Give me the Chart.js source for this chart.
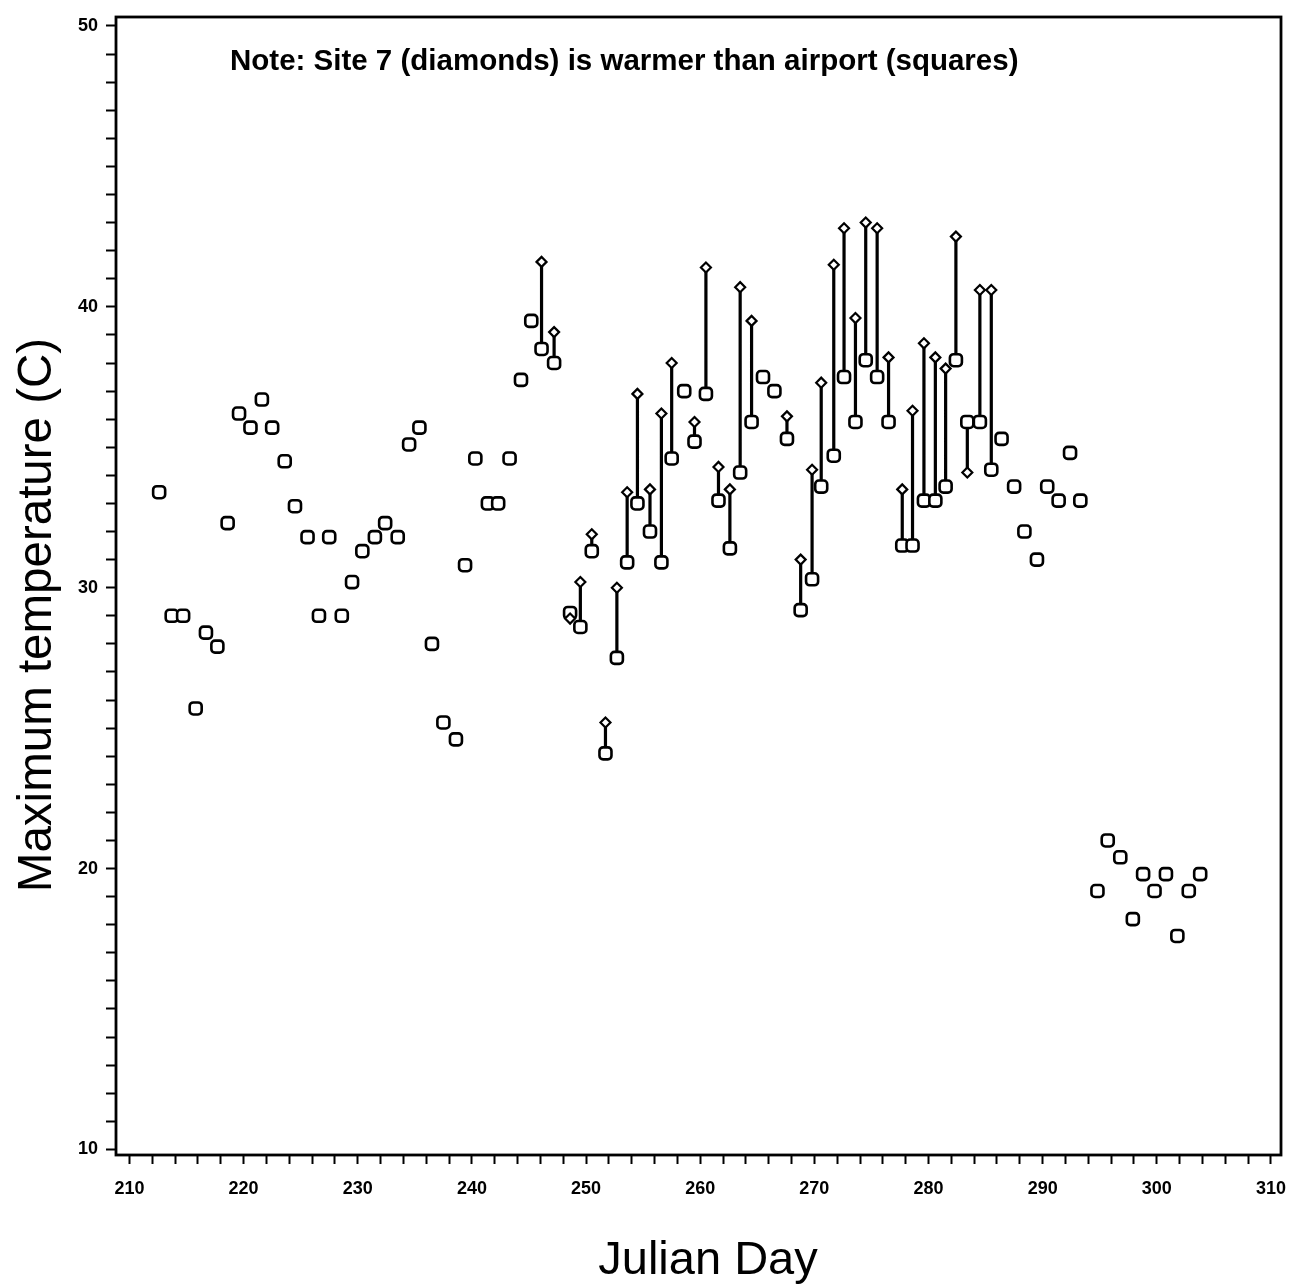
<!DOCTYPE html>
<html>
<head>
<meta charset="utf-8">
<script src="https://cdn.jsdelivr.net/npm/chart.js@4/dist/chart.umd.min.js"></script>
<style>
  html, body { margin: 0; padding: 0; background: #fff; }
  canvas { display: block; }
</style>
</head>
<body>
<canvas id="tempChart" width="1292" height="1288"></canvas>
<script>
// Julian day of each observation
const days = [212.6, 213.7, 214.7, 215.8, 216.7, 217.7, 218.6, 219.6, 220.6, 221.6,
  222.5, 223.6, 224.5, 225.6, 226.6, 227.5, 228.6, 229.5, 230.4, 231.5,
  232.4, 233.5, 234.5, 235.4, 236.5, 237.5, 238.6, 239.4, 240.3, 241.4,
  242.3, 243.3, 244.3, 245.2, 246.1, 247.2, 248.6, 249.5, 250.5, 251.7,
  252.7, 253.6, 254.5, 255.6, 256.6, 257.5, 258.6, 259.5, 260.5, 261.6,
  262.6, 263.5, 264.5, 265.5, 266.5, 267.6, 268.8, 269.8, 270.6, 271.7,
  272.6, 273.6, 274.5, 275.5, 276.5, 277.7, 278.6, 279.6, 280.6, 281.5,
  282.4, 283.4, 284.5, 285.5, 286.4, 287.5, 288.4, 289.5, 290.4, 291.4,
  292.4, 293.3, 294.8, 295.7, 296.8, 297.9, 298.8, 299.8, 300.8, 301.8,
  302.8, 303.8];

// Airport maximum temperature (squares)
const airportTemps = [33.4, 29.0, 29.0, 25.7, 28.4, 27.9, 32.3, 36.2, 35.7, 36.7,
  35.7, 34.5, 32.9, 31.8, 29.0, 31.8, 29.0, 30.2, 31.3, 31.8,
  32.3, 31.8, 35.1, 35.7, 28.0, 25.2, 24.6, 30.8, 34.6, 33.0,
  33.0, 34.6, 37.4, 39.5, 38.5, 38.0, 29.1, 28.6, 31.3, 24.1,
  27.5, 30.9, 33.0, 32.0, 30.9, 34.6, 37.0, 35.2, 36.9, 33.1,
  31.4, 34.1, 35.9, 37.5, 37.0, 35.3, 29.2, 30.3, 33.6, 34.7,
  37.5, 35.9, 38.1, 37.5, 35.9, 31.5, 31.5, 33.1, 33.1, 33.6,
  38.1, 35.9, 35.9, 34.2, 35.3, 33.6, 32.0, 31.0, 33.6, 33.1,
  34.8, 33.1, 19.2, 21.0, 20.4, 18.2, 19.8, 19.2, 19.8, 17.6,
  19.2, 19.8];

// Site 7 maximum temperature (diamonds), null = no reading
const site7Temps = [null, null, null, null, null, null, null, null, null, null,
  null, null, null, null, null, null, null, null, null, null,
  null, null, null, null, null, null, null, null, null, null,
  null, null, null, null, 41.6, 39.1, 28.9, 30.2, 31.9, 25.2,
  30.0, 33.4, 36.9, 33.5, 36.2, 38.0, null, 35.9, 41.4, 34.3,
  33.5, 40.7, 39.5, null, null, 36.1, 31.0, 34.2, 37.3, 41.5,
  42.8, 39.6, 43.0, 42.8, 38.2, 33.5, 36.3, 38.7, 38.2, 37.8,
  42.5, 34.1, 40.6, 40.6, null, null, null, null, null, null,
  null, null, null, null, null, null, null, null, null, null,
  null, null];

// labelled ticks
const xTickLabels = [210, 220, 230, 240, 250, 260, 270, 280, 290, 300, 310];
const yTickLabels = [10, 20, 30, 40, 50];

const noteText = 'Note: Site 7 (diamonds) is warmer than airport (squares)';
const xTitle = 'Julian Day';
const yTitle = 'Maximum temperature (C)';

const airportPoints = days.map((d, i) => ({ x: d, y: airportTemps[i] }));
const site7Points = [];
const linkPoints = [];
days.forEach((d, i) => {
  if (site7Temps[i] === null) return;
  site7Points.push({ x: d, y: site7Temps[i] });
  linkPoints.push({ x: d, y: airportTemps[i] }, { x: d, y: site7Temps[i] }, { x: d, y: null });
});

const tickFont = { family: 'Liberation Sans', size: 18, weight: 'bold' };

// frame around plot, note and axis titles
const framePlugin = {
  id: 'frame',
  afterDraw(chart) {
    const { ctx, chartArea: a } = chart;
    ctx.save();
    ctx.strokeStyle = '#000';
    ctx.lineWidth = 2.8;
    ctx.strokeRect(a.left, a.top, a.right - a.left, a.bottom - a.top);
    ctx.fillStyle = '#000';

    ctx.font = 'bold 29.5px "Liberation Sans"';
    ctx.textBaseline = 'middle';
    ctx.textAlign = 'left';
    ctx.fillText(noteText, 230, 62);

    ctx.textBaseline = 'alphabetic';
    ctx.textAlign = 'center';
    ctx.font = '47px "Liberation Sans"';
    ctx.fillText(xTitle, 708, 1274);

    ctx.translate(51, 615);
    ctx.rotate(-Math.PI / 2);
    ctx.font = '47.5px "Liberation Sans"';
    ctx.fillText(yTitle, 0, 0);
    ctx.restore();
  }
};

new Chart(document.getElementById('tempChart'), {
  type: 'scatter',
  data: {
    datasets: [
      {
        label: 'link',
        type: 'line',
        data: linkPoints,
        showLine: true,
        spanGaps: false,
        borderColor: '#000',
        borderWidth: 3.2,
        pointRadius: 0,
        order: 3
      },
      {
        label: 'Airport',
        data: airportPoints,
        pointStyle: 'rectRounded',
        pointRadius: 7,
        pointBorderWidth: 2.6,
        borderColor: '#000',
        backgroundColor: '#fff',
        order: 2
      },
      {
        label: 'Site 7',
        data: site7Points,
        pointStyle: 'rectRot',
        pointRadius: 5,
        pointBorderWidth: 2.2,
        borderColor: '#000',
        backgroundColor: '#fff',
        order: 1
      }
    ]
  },
  options: {
    responsive: false,
    animation: false,
    devicePixelRatio: 1,
    events: [],
    layout: { padding: { top: 17, right: 11, left: 0, bottom: 0 } },
    plugins: {
      legend: { display: false },
      tooltip: { enabled: false }
    },
    scales: {
      x: {
        type: 'linear',
        min: 208.82,
        max: 310.88,
        afterFit: (scale) => {
          scale.height = 133;
          scale.paddingLeft = 0;
          scale.paddingRight = 0;
        },
        afterBuildTicks: (scale) => {
          const t = [];
          for (let v = 210; v <= 310; v += 2) t.push({ value: v });
          scale.ticks = t;
        },
        border: { display: false },
        grid: { drawOnChartArea: false, tickLength: 9, tickWidth: 2, tickColor: '#000' },
        ticks: {
          color: '#000',
          font: tickFont,
          padding: 14,
          maxRotation: 0,
          autoSkip: false,
          callback: (v) => xTickLabels.includes(v) ? String(v) : ''
        },
        title: { display: false }
      },
      y: {
        type: 'linear',
        min: 9.8,
        max: 50.32,
        afterFit: (scale) => {
          scale.width = 116;
          scale.paddingTop = 0;
          scale.paddingBottom = 0;
        },
        afterBuildTicks: (scale) => {
          const t = [];
          for (let v = 10; v <= 50; v += 1) t.push({ value: v });
          scale.ticks = t;
        },
        border: { display: false },
        grid: { drawOnChartArea: false, tickLength: 10, tickWidth: 2, tickColor: '#000' },
        ticks: {
          color: '#000',
          font: tickFont,
          padding: 8,
          autoSkip: false,
          callback: (v) => yTickLabels.includes(v) ? String(v) : ''
        },
        title: { display: false }
      }
    }
  },
  plugins: [framePlugin]
});
</script>
</body>
</html>
